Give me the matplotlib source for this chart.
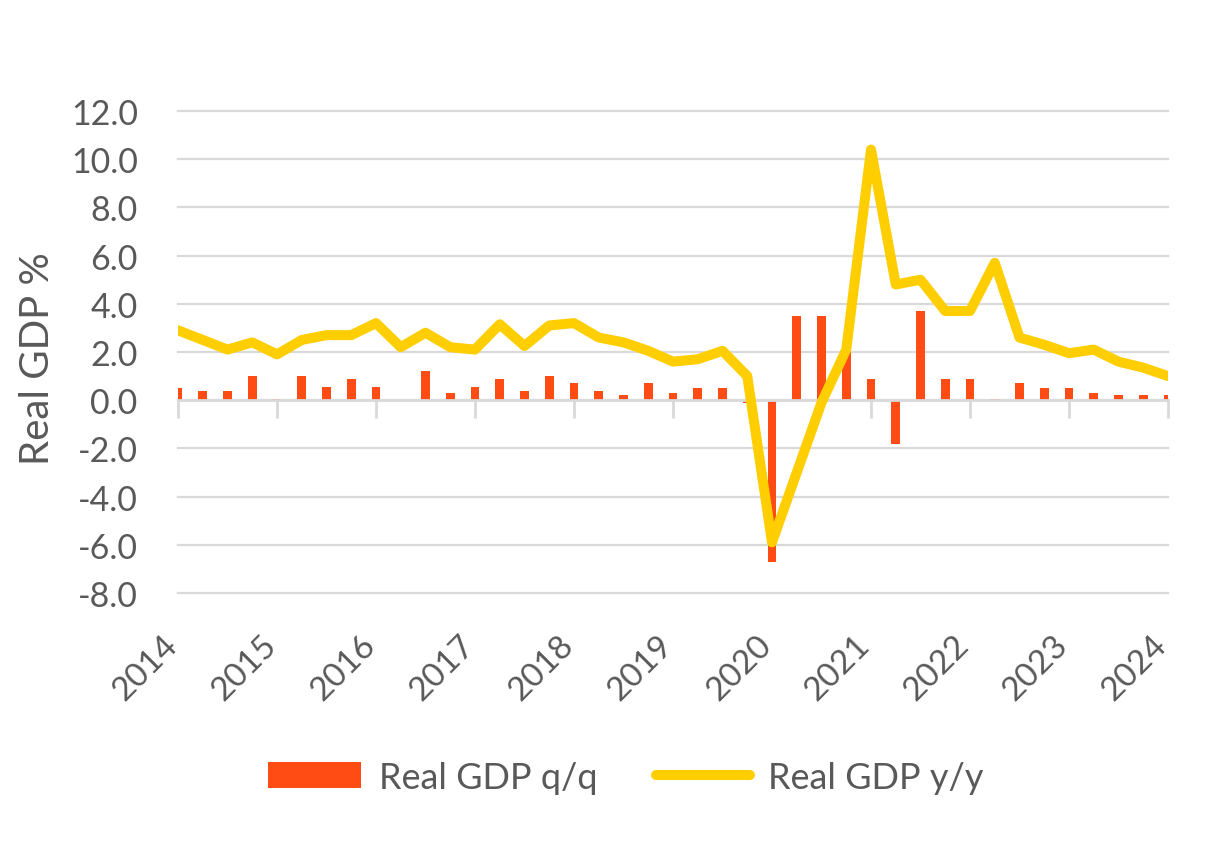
import numpy as np
import matplotlib.pyplot as plt
import matplotlib.transforms as mtransforms

plt.rcParams['font.family'] = ['Lato', 'DejaVu Sans']

# quarterly data, 2014 Q1 .. 2024 Q1
years = ['2014', '2015', '2016', '2017', '2018', '2019',
         '2020', '2021', '2022', '2023', '2024']

gdp_qq = [0.5, 0.4, 0.4, 1.0, 0.05, 1.0, 0.55, 0.9, 0.55, 0.0,
          1.2, 0.3, 0.55, 0.9, 0.4, 1.0, 0.7, 0.4, 0.2, 0.7,
          0.3, 0.5, 0.5, -0.1, -6.7, 3.5, 3.5, 2.0, 0.9, -1.8,
          3.7, 0.9, 0.9, 0.05, 0.7, 0.5, 0.5, 0.3, 0.2, 0.2, 0.2]

gdp_yy = [2.9, 2.5, 2.1, 2.4, 1.9, 2.5, 2.7, 2.7, 3.2, 2.2,
          2.8, 2.2, 2.1, 3.15, 2.25, 3.1, 3.2, 2.6, 2.4, 2.05,
          1.6, 1.7, 2.05, 1.0, -5.9, -3.0, -0.1, 2.1, 10.4, 4.8,
          5.0, 3.7, 3.7, 5.7, 2.6, 2.3, 1.95, 2.1, 1.6, 1.35, 1.0]

bar_color = '#FF4B14'
line_color = '#FFCE00'
grid_color = '#D9D9D9'
text_color = '#595959'

x = np.arange(len(gdp_qq))

fig = plt.figure(figsize=(12.31, 8.45), dpi=100)
ax = fig.add_axes([178 / 1231, 1 - 594 / 845, 990 / 1231, 482 / 845])

bars = ax.bar(x, gdp_qq, width=0.35, color=bar_color, label='Real GDP q/q', zorder=2)
line, = ax.plot(x, gdp_yy, color=line_color, lw=7.2, solid_joinstyle='round',
                solid_capstyle='round', label='Real GDP y/y', zorder=3)

ax.set_xlim(0, 40)
ax.set_ylim(-8, 12)

# y axis: gridlines, no spine
ax.set_yticks(np.arange(-8, 13, 2))
ax.set_yticklabels(['%.1f' % v for v in np.arange(-8, 13, 2)])
ax.tick_params(axis='y', length=0, pad=29, labelsize=24.5, labelcolor=text_color)
ax.yaxis.grid(True, color=grid_color, lw=1.6, zorder=0)
for gl in ax.get_ygridlines():
    gl.set_clip_on(False)
ax.set_axisbelow(True)

for side in ['top', 'right', 'left']:
    ax.spines[side].set_visible(False)

# x axis line crosses at zero, tick marks there
ax.spines['bottom'].set_position(('data', 0))
ax.spines['bottom'].set_color(grid_color)
ax.spines['bottom'].set_linewidth(2)
ax.set_xticks(x[::4])
ax.tick_params(axis='x', direction='out', length=13, width=2,
               color=grid_color, labelbottom=False)

# year labels sit below the plot
sec = ax.secondary_xaxis('bottom')
sec.spines['bottom'].set_visible(False)
sec.set_xticks(x[::4])
sec.set_xticklabels(years, rotation=45, ha='right', va='top')
sec.tick_params(axis='x', length=0, pad=26, labelsize=24, labelcolor=text_color)
offset = mtransforms.ScaledTranslation(5 / 100, 0, fig.dpi_scale_trans)
for lbl in sec.get_xticklabels():
    lbl.set_transform(lbl.get_transform() + offset)

fig.text(38 / 1231, 1 - 359 / 845, 'Real GDP %', rotation=90,
         ha='center', va='center', fontsize=29, color=text_color)

fig.legend([bars, line], ['Real GDP q/q', 'Real GDP y/y'],
           loc='center', bbox_to_anchor=(0.508, 0.079), ncol=2, frameon=False,
           fontsize=26, labelcolor=text_color, handlelength=2.6,
           handletextpad=0.5, columnspacing=1.6)

plt.savefig('out.png', dpi=100)
